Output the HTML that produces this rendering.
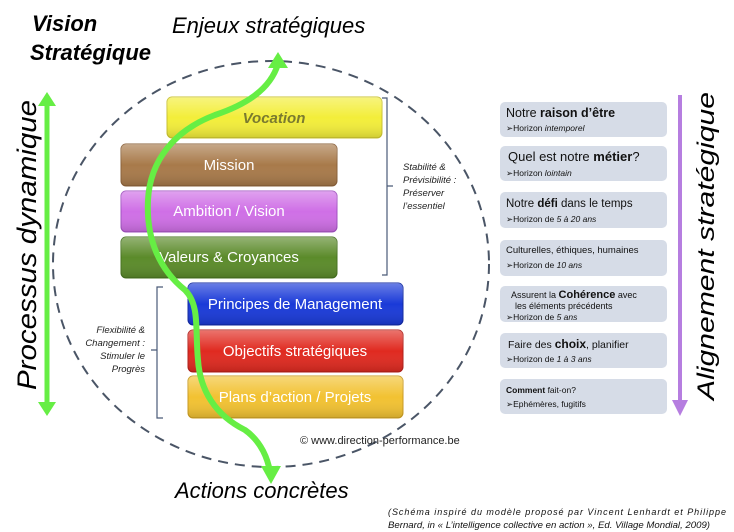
<!DOCTYPE html>
<html><head><meta charset="utf-8"><style>
html,body{margin:0;padding:0;background:#fff;}
svg{display:block;font-family:"Liberation Sans",sans-serif;}
</style></head><body>
<svg width="734" height="532" viewBox="0 0 734 532" xmlns="http://www.w3.org/2000/svg">
<defs>
<linearGradient id="sh" x1="0" y1="0" x2="0" y2="1"><stop offset="0" stop-color="#fff" stop-opacity="0.35"/><stop offset="0.5" stop-color="#fff" stop-opacity="0"/><stop offset="1" stop-color="#000" stop-opacity="0.15"/></linearGradient>
</defs>
<rect width="734" height="532" fill="#fff"/>
<ellipse cx="271" cy="264" rx="218" ry="203" fill="none" stroke="#4a5566" stroke-width="2" stroke-dasharray="10,7"/>
<text x="32" y="31" font-size="22" font-weight="bold" font-style="italic">Vision</text>
<text x="30" y="60" font-size="22" font-weight="bold" font-style="italic">Stratégique</text>
<text x="172" y="33" font-size="22" font-style="italic">Enjeux stratégiques</text>
<text x="175" y="498" font-size="22" font-style="italic">Actions concrètes</text>
<g font-size="15" text-anchor="middle">
<rect x="167" y="97" width="215" height="41" rx="5" fill="#f3ee3a" stroke="#c8c030"/><rect x="167" y="97" width="215" height="41" rx="5" fill="url(#sh)"/>
<text x="274" y="123" fill="#7a7a30" font-weight="bold" font-style="italic">Vocation</text>
<rect x="121" y="144" width="216" height="42" rx="5" fill="#a87a4a" stroke="#8a6038"/><rect x="121" y="144" width="216" height="42" rx="5" fill="url(#sh)"/>
<text x="229" y="170" fill="#fff">Mission</text>
<rect x="121" y="191" width="216" height="41" rx="5" fill="#cf6fe6" stroke="#a050c0"/><rect x="121" y="191" width="216" height="41" rx="5" fill="url(#sh)"/>
<text x="229" y="216" fill="#fff">Ambition / Vision</text>
<rect x="121" y="237" width="216" height="41" rx="5" fill="#5b8b2a" stroke="#44701e"/><rect x="121" y="237" width="216" height="41" rx="5" fill="url(#sh)"/>
<text x="229" y="262" fill="#fff">Valeurs &amp; Croyances</text>
<rect x="188" y="283" width="215" height="42" rx="5" fill="#1a3ad8" stroke="#1028a0"/><rect x="188" y="283" width="215" height="42" rx="5" fill="url(#sh)"/>
<text x="295" y="309" fill="#fff">Principes de Management</text>
<rect x="188" y="330" width="215" height="42" rx="5" fill="#e02a20" stroke="#b01e18"/><rect x="188" y="330" width="215" height="42" rx="5" fill="url(#sh)"/>
<text x="295" y="356" fill="#fff">Objectifs stratégiques</text>
<rect x="188" y="376" width="215" height="42" rx="5" fill="#f2c232" stroke="#c89a20"/><rect x="188" y="376" width="215" height="42" rx="5" fill="url(#sh)"/>
<text x="295" y="402" fill="#fff">Plans d’action / Projets</text>
</g>
<path d="M382 98 H387 V275 H382 M387 186 H393" fill="none" stroke="#4a5a78" stroke-width="1.2"/>
<g font-size="9.5" font-style="italic" fill="#222">
<text x="403" y="170">Stabilité &amp;</text>
<text x="403" y="183">Prévisibilité :</text>
<text x="403" y="196">Préserver</text>
<text x="403" y="209">l’essentiel</text>
</g>
<path d="M163 287 H157 V418 H163 M157 350 H151" fill="none" stroke="#4a5a78" stroke-width="1.2"/>
<g font-size="9.5" font-style="italic" fill="#222" text-anchor="end">
<text x="145" y="333">Flexibilité &amp;</text>
<text x="145" y="346">Changement :</text>
<text x="145" y="359">Stimuler le</text>
<text x="145" y="372">Progrès</text>
</g>
<text x="300" y="444" font-size="11" fill="#222">© www.direction-performance.be</text>
<path d="M278 64 C270 90 245 105 215 115 C175 130 150 160 148 200 C146 240 160 270 185 290 C200 305 195 330 198 360 C200 390 215 415 245 430 C262 442 268 460 270 472" fill="none" stroke="#66ee44" stroke-width="6" stroke-linecap="round"/>
<polygon points="278,52 268,68 288,68" fill="#66ee44"/>
<polygon points="271,484 261,466 281,466" fill="#66ee44"/>
<line x1="47" y1="100" x2="47" y2="408" stroke="#66ee44" stroke-width="5"/>
<polygon points="47,92 38,106 56,106" fill="#66ee44"/>
<polygon points="47,416 38,402 56,402" fill="#66ee44"/>
<text transform="translate(36,390) rotate(-90)" font-size="27" font-style="italic" textLength="290" lengthAdjust="spacingAndGlyphs">Processus dynamique</text>
<g fill="#d6dce7">
<rect x="500" y="102" width="167" height="35" rx="5"/>
<rect x="500" y="146" width="167" height="35" rx="5"/>
<rect x="500" y="192" width="167" height="36" rx="5"/>
<rect x="500" y="240" width="167" height="36" rx="5"/>
<rect x="500" y="286" width="167" height="36" rx="5"/>
<rect x="500" y="333" width="167" height="35" rx="5"/>
<rect x="500" y="379" width="167" height="35" rx="5"/>
</g>
<g fill="#111">
<text x="506" y="117" font-size="12.5">Notre <tspan font-weight="bold">raison d’être</tspan></text>
<text x="506" y="131" font-size="8.5">➢Horizon <tspan font-style="italic">intemporel</tspan></text>
<text x="508" y="161" font-size="13">Quel est notre <tspan font-weight="bold">métier</tspan>?</text>
<text x="506" y="176" font-size="8.5">➢Horizon <tspan font-style="italic">lointain</tspan></text>
<text x="506" y="207" font-size="11.5">Notre <tspan font-weight="bold">défi</tspan> dans le temps</text>
<text x="506" y="222" font-size="8.5">➢Horizon de <tspan font-style="italic">5 à 20 ans</tspan></text>
<text x="506" y="253" font-size="9.5">Culturelles, éthiques, humaines</text>
<text x="506" y="268" font-size="8.5">➢Horizon de <tspan font-style="italic">10 ans</tspan></text>
<text x="511" y="298" font-size="9">Assurent la <tspan font-weight="bold" font-size="11">Cohérence</tspan> avec</text>
<text x="515" y="309" font-size="9">les éléments précédents</text>
<text x="506" y="320" font-size="8.5">➢Horizon de <tspan font-style="italic">5 ans</tspan></text>
<text x="508" y="348" font-size="10.5">Faire des <tspan font-weight="bold" font-size="12">choix</tspan>, planifier</text>
<text x="506" y="362" font-size="8.5">➢Horizon de <tspan font-style="italic">1 à 3 ans</tspan></text>
<text x="506" y="393" font-size="8.5"><tspan font-weight="bold">Comment</tspan> fait-on?</text>
<text x="506" y="407" font-size="8.5">➢Ephémères, fugitifs</text>
</g>
<line x1="680" y1="95" x2="680" y2="405" stroke="#b67ee0" stroke-width="4"/>
<polygon points="680,416 672,400 688,400" fill="#b67ee0"/>
<text transform="translate(714,400) rotate(-90)" font-size="24" font-style="italic" textLength="308" lengthAdjust="spacingAndGlyphs">Alignement stratégique</text>
<g font-size="9" font-style="italic" fill="#111">
<text x="388" y="515" textLength="338" lengthAdjust="spacing">(Schéma inspiré du modèle proposé par Vincent Lenhardt et Philippe</text>
<text x="388" y="528" textLength="322" lengthAdjust="spacingAndGlyphs">Bernard, in « L’intelligence collective en action », Ed. Village Mondial, 2009)</text>
</g>
</svg>
</body></html>
